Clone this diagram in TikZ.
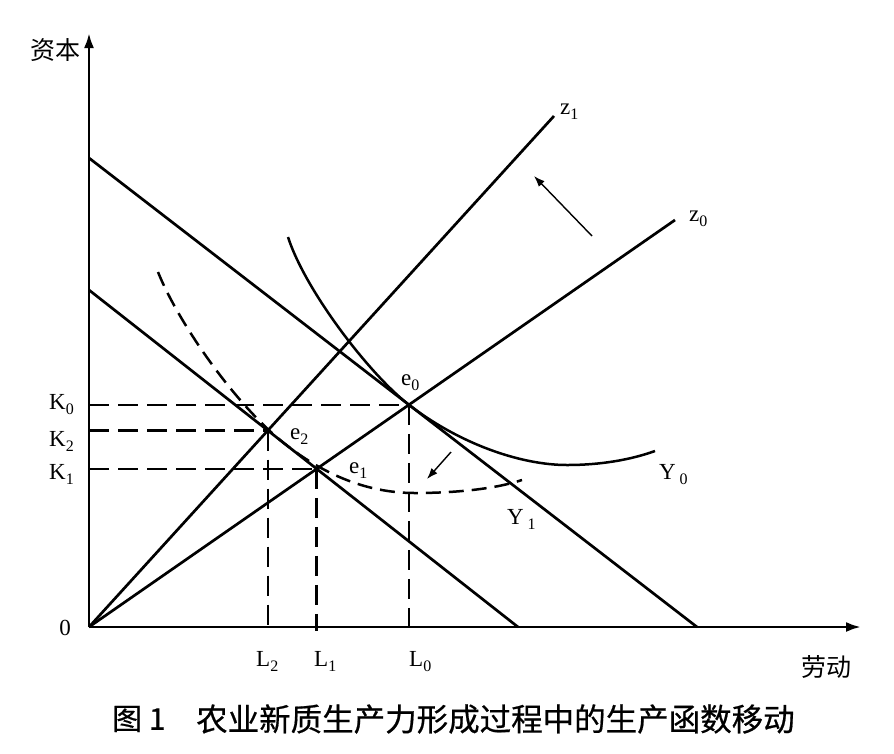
\documentclass[tikz,border=0pt]{standalone}
\usepackage{fontspec}
\setmainfont{Liberation Serif}
\newfontfamily\cjk{Noto Sans CJK SC}
\newfontfamily\cjkbold[FakeBold=0.6]{Noto Sans CJK SC}
\usetikzlibrary{arrows.meta,calc}
\newcommand{\lbl}[2]{#1\raisebox{-5pt}{\fontsize{16}{16}\selectfont #2}}
\begin{document}
\begin{tikzpicture}[x=1pt,y=-1pt,
  mainline/.style={line width=2.7pt},
  axisline/.style={line width=2.7pt,-{Latex[length=15pt,width=10pt]}},
  guide/.style={line width=2.5pt,dash pattern=on 20pt off 9pt},
  isoq/.style={line width=2.5pt},
  isoqd/.style={line width=2.5pt,dash pattern=on 15pt off 8pt},
  shiftarrow/.style={line width=1.4pt,-{Latex[length=11pt,width=8pt]}},
  lab/.style={inner sep=0pt,anchor=base west,font=\fontsize{23}{23}\selectfont},
  cjklab/.style={inner sep=0pt,font=\cjk\fontsize{25}{25}\selectfont}]
\useasboundingbox (0,0) rectangle (894,753);

% key coordinates
\coordinate (O) at (89,627);
\coordinate (Ytop) at (89,33);
\coordinate (Xend) at (861,627);
\coordinate (B1s) at (89,158);
\coordinate (B1e) at (697,627);
\coordinate (B2s) at (89,290);
\coordinate (B2e) at (518,627);
\coordinate (z0e) at (675,220);
\coordinate (z1e) at (554,116);
\coordinate (e0) at (intersection of O--z0e and B1s--B1e);
\coordinate (e1) at (intersection of O--z0e and B2s--B2e);
\coordinate (e2) at (intersection of O--z1e and B2s--B2e);

% guides
\draw[guide] (O |- e0) -- (e0);
\draw[guide] (O |- e2) -- (e2);
\draw[guide] (O |- e1) -- (e1);
\draw[guide] (e0) -- ($(e0 |- O)+(0,4)$);
\draw[guide] (e2) -- ($(e2 |- O)+(0,4)$);
\draw[guide] (e1) -- ($(e1 |- O)+(0,4)$);

% budget lines and rays
\draw[mainline] (B1s) -- (B1e);
\draw[mainline] (B2s) -- (B2e);
\draw[mainline] (O) -- (z0e);
\draw[mainline] (O) -- (z1e);

% isoquant Y0
\draw[isoq] (288,237) .. controls (305,290) and ($(e0)-(40,30.9)$) .. (e0)
  .. controls ($(e0)+(50,38.6)$) and (520,465) .. (567,465)
  .. controls (600,465) and (630,460) .. (655,451);
% isoquant Y1 (dashed)
\coordinate (T) at (285,444);
\draw[isoqd] (158,272) .. controls (178,322) and ($(T)-(50,39.3)$) .. (T)
  .. controls ($(T)+(50,39.3)$) and (380,493) .. (415,493)
  .. controls (455,493) and (495,489) .. (522,480);

% axes
\draw[axisline] (O) -- (Ytop);
\draw[axisline] (O) -- (Xend);

% shift arrows
\coordinate (a1s) at (592,236);
\coordinate (a1e) at (534,176);
\coordinate (a2s) at (451,452);
\coordinate (a2e) at (427,479);
\draw[shiftarrow] (a1s) -- (a1e);
\draw[shiftarrow] (a2s) -- (a2e);

% labels
\node[cjklab] (ylab) at (55,50) {资本};
\node[cjklab] (xlab) at (826,667) {劳动};
\node[inner sep=0pt,font=\fontsize{23}{23}\selectfont] (zero) at (65,628) {0};
\node[lab] (K0) at (49,409) {\lbl{K}{0}};
\node[lab] (K2) at (49,446) {\lbl{K}{2}};
\node[lab] (K1) at (49,479) {\lbl{K}{1}};
\node[lab] (L2) at (256,666) {\lbl{L}{2}};
\node[lab] (L1) at (314,666) {\lbl{L}{1}};
\node[lab] (L0) at (409,666) {\lbl{L}{0}};
\node[lab] (e0l) at (401,385) {\lbl{e}{0}};
\node[lab] (e2l) at (290,439) {\lbl{e}{2}};
\node[lab] (e1l) at (349,473) {\lbl{e}{1}};
\node[lab] (Y0l) at (659,479) {\lbl{Y\,}{0}};
\node[lab] (Y1l) at (507,524) {\lbl{Y\,}{1}};
\node[lab] (z1l) at (560,114) {\lbl{z}{1}};
\node[lab] (z0l) at (689,221) {\lbl{z}{0}};

% caption
\node[inner sep=0pt,anchor=west,font=\cjkbold\fontsize{30}{30}\selectfont] (fig) at (112,719) {图 1};
\node[inner sep=0pt,anchor=west,font=\cjkbold\fontsize{31.5}{31.5}\selectfont] (cap) at (196,719) {农业新质生产力形成过程中的生产函数移动};
\end{tikzpicture}
\end{document}
